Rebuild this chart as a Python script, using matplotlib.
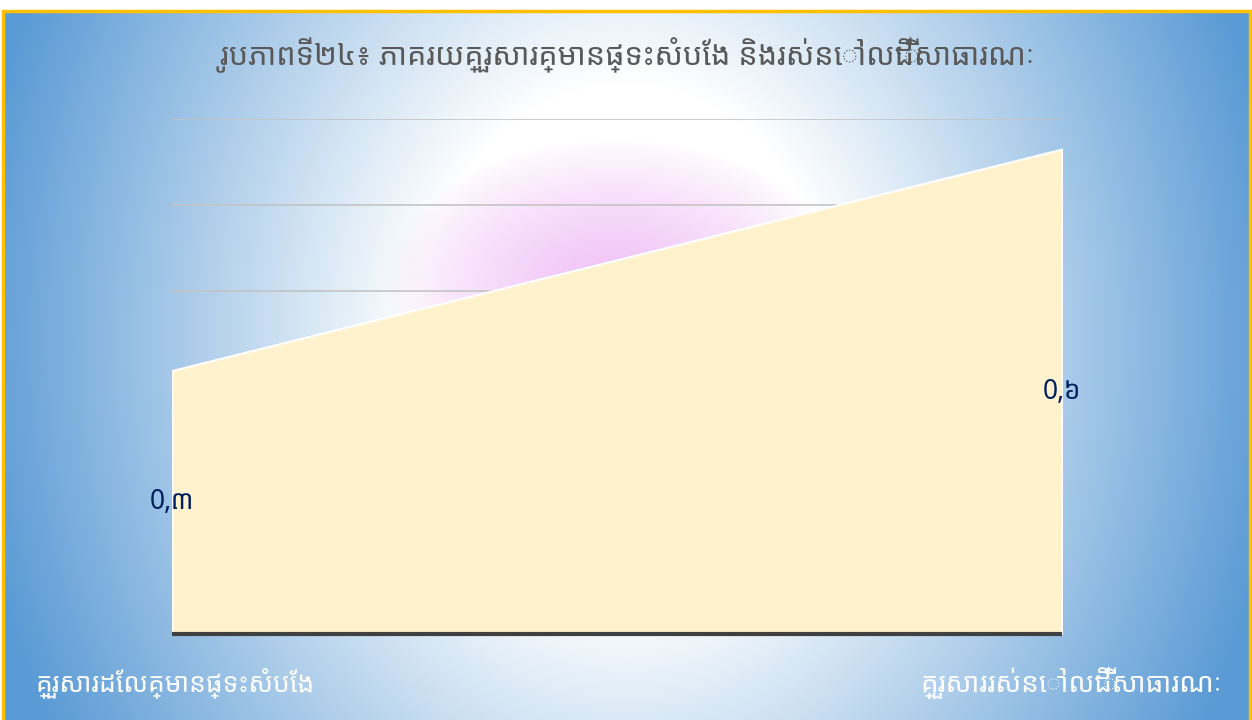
import numpy as np
import matplotlib
matplotlib.use("Agg")
import matplotlib.pyplot as plt
from matplotlib.patches import Rectangle

# -------------------------------------------------------------
# Data
# -------------------------------------------------------------
title = "រូបភាពទី២៤៖ ភាគរយគ្រួសារគ្មានផ្ទះសំបែង និងរស់នៅលើដីសាធារណៈ"
categories = ["គ្រួសារដែលគ្មានផ្ទះសំបែង", "គ្រួសាររស់នៅលើដីសាធារណៈ"]
values = [0.307, 0.565]
y_max = 0.6
y_step = 0.1

khmer_digits = "០១២៣៤៥៦៧៨៩"

def khmer_label(v):
    s = f"{v:.1f}".split(".")
    return s[0] + "," + "".join(khmer_digits[int(c)] for c in s[1])

plt.rcParams['font.family'] = ['Khmer OS', 'Noto Sans Khmer', 'Noto Serif Khmer',
                               'Khmer OS System', 'DejaVu Sans']

W, H = 1252, 720
fig = plt.figure(figsize=(W / 100, H / 100), dpi=100, facecolor="white")

# -------------------------------------------------------------
# Background gradient (blue edges, white centre, pink spot)
# -------------------------------------------------------------
bx0, bx1, by_top = 3, 1250, 11
bg = fig.add_axes([bx0 / W, 0, (bx1 - bx0) / W, (H - by_top) / H])
yy, xx = np.mgrid[by_top:H, bx0:bx1].astype(float)
r = np.sqrt(((xx - 626) / 657) ** 2 + ((yy - 340) / 800) ** 2)
t = np.clip((r - 0.32) / 0.68, 0, 1)[..., None]
blue = np.array([0x5B, 0x9B, 0xD5]) / 255
img = (1 - t) * 1.0 + t * blue
rp = np.sqrt(((xx - 615) / 230) ** 2 + ((yy - 285) / 145) ** 2)
p = np.clip(1 - rp, 0, 1)[..., None] ** 0.8
pink = np.array([0xF0, 0xBE, 0xF6]) / 255
img = (1 - p) * img + p * pink
bg.imshow(img, aspect="auto", interpolation="bilinear")
bg.axis("off")

fig.patches.append(Rectangle((bx0 / W, -0.01), (bx1 - bx0) / W, (H - by_top) / H + 0.01,
                             transform=fig.transFigure, fill=False,
                             edgecolor="#FFC000", linewidth=2.5, zorder=10))

# -------------------------------------------------------------
# Area chart
# -------------------------------------------------------------
left, right, bottom, top = 172, 1062, 634, 119
ax = fig.add_axes([left / W, (H - bottom) / H, (right - left) / W, (bottom - top) / H])
ax.patch.set_alpha(0)
x = np.arange(len(values))
ax.set_xlim(0, len(values) - 1)
ax.set_ylim(0, y_max)

for g in np.arange(y_step, y_max + 1e-9, y_step):
    ax.axhline(g, color="#C4C4C4", linewidth=1.2, zorder=1)

ax.fill_between(x, 0, values, facecolor="#FFF2CC", edgecolor="white",
                linewidth=1.5, zorder=2)
ax.axhline(0, color="#404040", linewidth=3, zorder=3, clip_on=False,
           solid_capstyle="butt")

for xi, v in zip(x, values):
    ax.text(xi, v / 2, khmer_label(v), ha="center", va="center",
            fontsize=19, fontweight="bold", color="#002060", zorder=4)

ax.set_xticks([])
ax.set_yticks([])
for s in ax.spines.values():
    s.set_visible(False)

# -------------------------------------------------------------
# Texts
# -------------------------------------------------------------
fig.text(628 / W, 1 - 55 / H, title, ha="center", va="center",
         fontsize=22, style="italic", color="#595959")
fig.text(35 / W, 1 - 683 / H, categories[0], ha="left", va="center",
         fontsize=19, style="italic", color="white")
fig.text(1222 / W, 1 - 683 / H, categories[1], ha="right", va="center",
         fontsize=20, style="italic", color="white")

fig.savefig("out.png", dpi=100, facecolor=fig.get_facecolor())
